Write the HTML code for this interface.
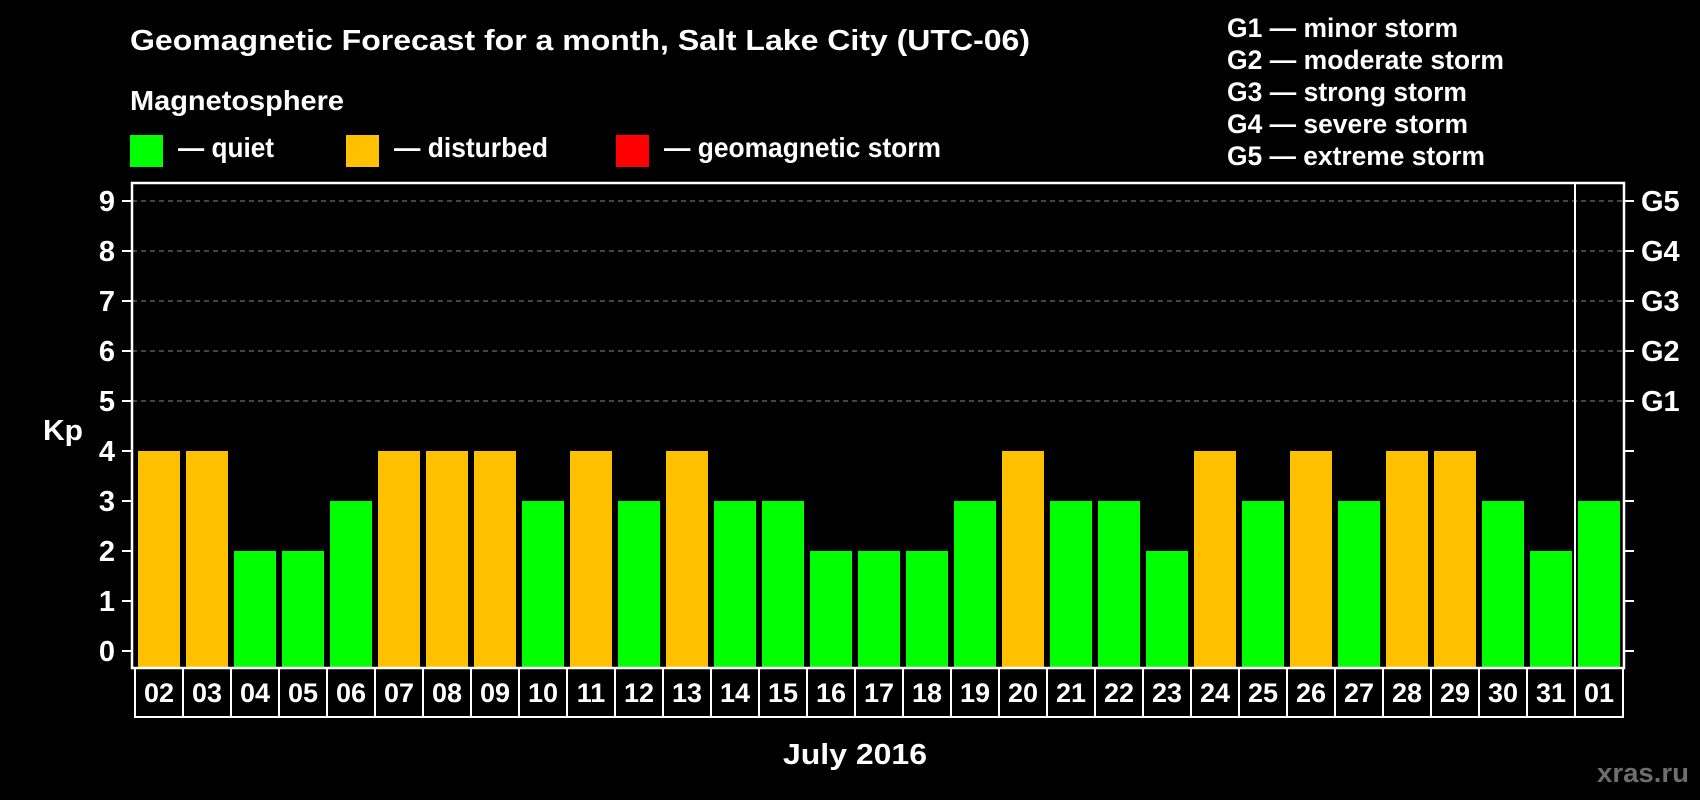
<!DOCTYPE html>
<html><head><meta charset="utf-8"><style>
html,body{margin:0;padding:0;background:#000;}
svg{display:block;font-family:"Liberation Sans",Arial,sans-serif;font-weight:bold;}
</style></head><body>
<svg id="chart" width="1700" height="800" viewBox="0 0 1700 800">
<rect width="1700" height="800" fill="#000"/>
<text x="130" y="50" fill="#fff" font-size="29" textLength="900" lengthAdjust="spacingAndGlyphs">Geomagnetic Forecast for a month, Salt Lake City (UTC-06)</text>
<text x="130" y="110" fill="#fff" font-size="28" textLength="214" lengthAdjust="spacingAndGlyphs">Magnetosphere</text>
<g><rect x="130" y="135" width="33" height="32" fill="#00ff00"/><text x="178" y="157" fill="#fff" font-size="28" textLength="96" lengthAdjust="spacingAndGlyphs">— quiet</text></g>
<g><rect x="346" y="135" width="33" height="32" fill="#ffc000"/><text x="394" y="157" fill="#fff" font-size="28" textLength="154" lengthAdjust="spacingAndGlyphs">— disturbed</text></g>
<g><rect x="616" y="135" width="33" height="32" fill="#ff0000"/><text x="664" y="157" fill="#fff" font-size="28" textLength="277" lengthAdjust="spacingAndGlyphs">— geomagnetic storm</text></g>
<g fill="#fff" font-size="27">
<text x="1227" y="37" textLength="231" lengthAdjust="spacingAndGlyphs">G1 — minor storm</text>
<text x="1227" y="69" textLength="277" lengthAdjust="spacingAndGlyphs">G2 — moderate storm</text>
<text x="1227" y="101" textLength="240" lengthAdjust="spacingAndGlyphs">G3 — strong storm</text>
<text x="1227" y="133" textLength="241" lengthAdjust="spacingAndGlyphs">G4 — severe storm</text>
<text x="1227" y="165" textLength="258" lengthAdjust="spacingAndGlyphs">G5 — extreme storm</text>
</g>
<text x="43" y="440" fill="#fff" font-size="29" textLength="40" lengthAdjust="spacingAndGlyphs">Kp</text>
<text x="783" y="764" fill="#fff" font-size="29" textLength="144" lengthAdjust="spacingAndGlyphs">July 2016</text>
<text x="1597" y="782" fill="#6e6e6e" font-size="27" textLength="92" lengthAdjust="spacingAndGlyphs">xras.ru</text>
<g id="plot"></g>
</svg>
<script>
const categories=["02","03","04","05","06","07","08","09","10","11","12","13","14","15","16","17","18","19","20","21","22","23","24","25","26","27","28","29","30","31","01"];
const kpValues=[4,4,2,2,3,4,4,4,3,4,3,4,3,3,2,2,2,3,4,3,3,2,4,3,4,3,4,4,3,2,3];
const yTicks=[0,1,2,3,4,5,6,7,8,9];
const gLabels=["G1","G2","G3","G4","G5"];
const gLevels=[5,6,7,8,9];
const NS="http://www.w3.org/2000/svg";
const plot=document.getElementById('plot');
const X0=135,BAND=48,TOP=183,BOT=668;
const Y0=651,UNIT=50;
const y=v=>Y0-v*UNIT;
const x=i=>X0+i*BAND;
function mk(tag,attrs,parent){const e=document.createElementNS(NS,tag);for(const k in attrs)e.setAttribute(k,attrs[k]);(parent||plot).appendChild(e);return e;}
gLevels.forEach(v=>{const l=mk('line',{x1:132,x2:1624,y1:y(v),y2:y(v),stroke:'#888','stroke-width':1,'stroke-dasharray':'5,4'});

});
kpValues.forEach((v,i)=>{const r=mk('rect',{x:x(i)+3,y:y(v),width:42,height:BOT-y(v),fill:v>=5?'#ff0000':(v>=4?'#ffc000':'#00ff00')});

});
const f=mk('rect',{x:132,y:TOP,width:1624-132,height:BOT-TOP,fill:'none',stroke:'#fff','stroke-width':2.5});


const sep=mk('line',{x1:x(categories.length-1),x2:x(categories.length-1),y1:TOP,y2:BOT,stroke:'#fff','stroke-width':2});


yTicks.forEach(v=>{mk('line',{x1:122,x2:132,y1:y(v),y2:y(v),stroke:'#fff','stroke-width':2});
mk('line',{x1:1624,x2:1634,y1:y(v),y2:y(v),stroke:'#fff','stroke-width':2});
const t=mk('text',{x:115,y:y(v)+10,fill:'#fff','font-size':29,'text-anchor':'end'});t.textContent=v;

});
gLabels.forEach((g,i)=>{const t=mk('text',{x:1641,y:y(gLevels[i])+10,fill:'#fff','font-size':29});t.textContent=g;

});
categories.forEach((c,i)=>{const r=mk('rect',{x:x(i),y:BOT,width:BAND,height:49,fill:'none',stroke:'#fff','stroke-width':2});


const t=mk('text',{x:x(i)+BAND/2,y:BOT+34,fill:'#fff','font-size':27,'text-anchor':'middle'});t.textContent=c;

});
</script>
</body></html>
